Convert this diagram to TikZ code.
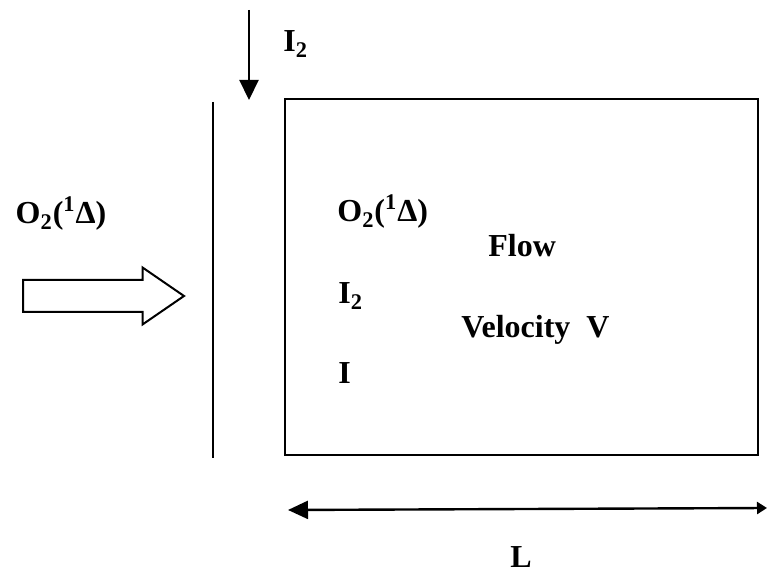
\documentclass[tikz,border=0pt]{standalone}
\usepackage{fontspec}
\setmainfont{Liberation Serif}
\usetikzlibrary{arrows.meta,positioning,shapes.arrows}
\tikzset{
  lbl/.style={font=\bfseries\fontsize{16}{19}\selectfont,inner sep=0pt},
  wall/.style={line width=1.2pt,draw=black},
  cell/.style={draw=black,line width=1.3pt,inner sep=0pt},
  feed/.style={single arrow,draw=black,line width=1pt,fill=white,inner xsep=0pt,inner ysep=7.5pt,minimum width=27.5pt,minimum height=80.5pt,single arrow head extend=6.25pt,single arrow tip angle=69},
  inflow/.style={-{Triangle[length=10pt,width=9.5pt]},line width=1.1pt},
  dim/.style={{Triangle[length=10pt,width=9pt]}-{Triangle[length=5pt,width=6pt]},line width=1.2pt}
}
\begin{document}
\begin{tikzpicture}[x=0.5pt,y=-0.5pt]
\useasboundingbox (0,0) rectangle (767,576);
% channel box and injector wall
\draw[cell] (285,99) rectangle (758,455);
\coordinate (walltop) at (213,102);
\coordinate (wallbot) at (213,458);
\draw[wall] (walltop) -- (wallbot);
% iodine injection
\coordinate (i2src) at (249,10);
\coordinate (i2tip) at (249,100);
\draw[inflow] (i2src) -- (i2tip);
\node[lbl,anchor=base west] (i2top) at (283,52) {I\textsubscript{2}};
% singlet oxygen feed
\node[lbl,anchor=base] (o2left) at (61,224) {O\textsubscript{2}(\textsuperscript{1}Δ)};
\node[feed,anchor=tail] (feedarrow) at (22,296) {};
% species inside
\node[lbl,anchor=base west] (o2in) at (337,222) {O\textsubscript{2}(\textsuperscript{1}Δ)};
\node[lbl,anchor=base west] (i2in) at (338,304) {I\textsubscript{2}};
\node[lbl,anchor=base west] (iin) at (338,384) {I};
\node[lbl,anchor=base west] (flow) at (488,257) {Flow};
\node[lbl,anchor=base west] (vel) at (461,338) {Velocity\ \ V};
% length
\coordinate (lstart) at (288,510);
\coordinate (lend) at (767,508);
\draw[dim] (lstart) -- (lend);
\node[lbl,anchor=base] (len) at (521,568) {L};
\end{tikzpicture}
\end{document}
